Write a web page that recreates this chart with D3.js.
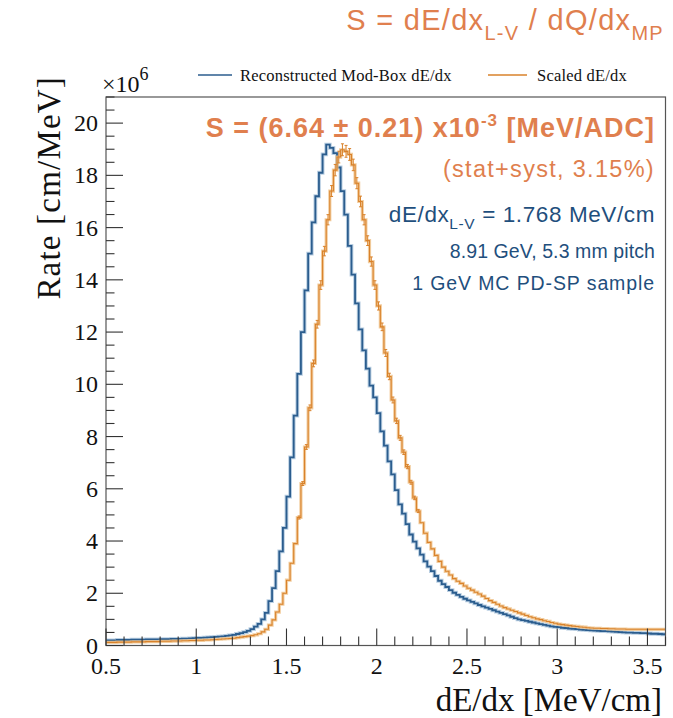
<!DOCTYPE html>
<html><head><meta charset="utf-8">
<script src="https://cdn.jsdelivr.net/npm/d3@7"></script>
<style>body{margin:0;background:#fff}svg{display:block}</style>
</head><body>
<svg id="c" width="673" height="718"></svg>
<script>
// ---- data ----
const binStart = 0.5, binWidth = 0.02, xMin = 0.5, xMax = 3.6, yMax = 21;
const xTicks = [0.5, 1, 1.5, 2, 2.5, 3, 3.5];
const yTicks = [0, 2, 4, 6, 8, 10, 12, 14, 16, 18, 20];
const recoValues = [
0.20,0.20,0.20,0.21,0.21,0.21,0.21,0.22,0.22,0.22,
0.22,0.23,0.23,0.23,0.23,0.24,0.24,0.24,0.25,0.25,
0.25,0.26,0.26,0.27,0.28,0.29,0.29,0.30,0.31,0.32,
0.33,0.34,0.35,0.37,0.39,0.41,0.44,0.47,0.51,0.56,
0.63,0.72,0.83,1.00,1.25,1.70,2.20,2.85,3.60,4.50,
5.70,7.20,8.80,10.40,12.00,13.60,15.00,16.20,17.20,18.10,
18.80,19.18,19.05,18.85,18.30,17.40,16.50,15.30,14.20,13.10,
12.10,11.30,10.60,9.95,9.50,8.90,8.20,7.65,7.05,6.55,
5.95,5.40,5.05,4.65,4.25,3.98,3.72,3.48,3.22,3.02,
2.85,2.66,2.48,2.35,2.24,2.12,2.02,1.94,1.86,1.79,
1.73,1.67,1.61,1.55,1.50,1.45,1.40,1.35,1.30,1.25,
1.20,1.15,1.10,1.05,1.00,0.97,0.94,0.91,0.88,0.85,
0.82,0.79,0.76,0.73,0.71,0.70,0.68,0.67,0.65,0.64,
0.63,0.61,0.60,0.59,0.58,0.57,0.56,0.55,0.55,0.54,
0.53,0.52,0.51,0.50,0.49,0.49,0.48,0.48,0.47,0.47,
0.46,0.45,0.45,0.44,0.43];
const scaledValues = [
0.12,0.12,0.12,0.13,0.13,0.13,0.13,0.14,0.14,0.14,
0.14,0.15,0.15,0.15,0.15,0.16,0.16,0.16,0.17,0.17,
0.17,0.18,0.18,0.19,0.19,0.20,0.20,0.21,0.21,0.22,
0.23,0.24,0.25,0.26,0.27,0.28,0.30,0.32,0.34,0.36,
0.38,0.41,0.45,0.52,0.62,0.78,0.98,1.28,1.58,2.00,
2.50,3.15,3.90,4.90,6.20,7.60,9.10,10.80,12.30,13.80,
15.10,16.30,17.40,18.20,18.70,18.98,18.92,18.80,18.40,17.70,
17.00,16.30,15.50,14.70,13.80,13.00,12.20,11.20,10.30,9.40,
8.60,7.95,7.40,6.85,6.25,5.65,5.15,4.70,4.30,3.95,
3.70,3.45,3.22,3.00,2.84,2.70,2.56,2.46,2.38,2.28,
2.19,2.12,2.04,1.97,1.89,1.80,1.72,1.65,1.58,1.51,
1.45,1.40,1.35,1.30,1.25,1.20,1.15,1.10,1.06,1.02,
0.99,0.95,0.92,0.88,0.85,0.82,0.80,0.78,0.76,0.74,
0.73,0.71,0.70,0.68,0.67,0.66,0.66,0.65,0.65,0.64,
0.64,0.63,0.63,0.63,0.62,0.62,0.62,0.62,0.62,0.62,
0.62,0.62,0.62,0.62,0.62];
const scaledRelErr = 0.012;
const legendLabels = ["Reconstructed Mod-Box dE/dx", "Scaled dE/dx"];

// ---- layout ----
const svg = d3.select("#c");
const L = 106, R = 665.5, T = 97, B = 645.5;
const x = d3.scaleLinear().domain([xMin, xMax]).range([L, R]);
const y = d3.scaleLinear().domain([0, yMax]).range([B, T]);
const blue = "#2b5d8e", blueLight = "#9dbad6", orange = "#d9822b", orangeLight = "#f0c48e";
const txtOrange = "#e07f4e", txtBlue = "#1f4f7d";
const serif = "'Liberation Serif','Times New Roman',serif";
const sans = "'Liberation Sans',Arial,Helvetica,sans-serif";

function stepPts(vals){
  const pts = vals.map((v,i)=>[binStart + i*binWidth, v]);
  pts.push([binStart + vals.length*binWidth, vals[vals.length-1]]);
  return pts;
}
const line = d3.line().x(d=>x(Math.min(d[0],xMax))).y(d=>y(d[1])).curve(d3.curveStepAfter);

svg.append("defs").append("clipPath").attr("id","clip")
  .append("rect").attr("x",L).attr("y",T).attr("width",R-L).attr("height",B-T);
const g = svg.append("g").attr("clip-path","url(#clip)");

// reco (blue)
g.append("path").attr("d", line(stepPts(recoValues))).attr("fill","none")
  .attr("stroke", blueLight).attr("stroke-width",3.8).attr("opacity",0.7);
g.append("path").attr("d", line(stepPts(recoValues))).attr("fill","none")
  .attr("stroke", blue).attr("stroke-width",1.8);

// scaled (orange)
g.append("path").attr("d", line(stepPts(scaledValues))).attr("fill","none")
  .attr("stroke", orangeLight).attr("stroke-width",3.2).attr("opacity",0.85);
g.append("path").attr("d", line(stepPts(scaledValues))).attr("fill","none")
  .attr("stroke", orange).attr("stroke-width",1.1);
const eb = g.append("g").attr("stroke", orange).attr("stroke-width",1);
scaledValues.forEach((v,i)=>{
  const cx = x(binStart + (i+0.5)*binWidth), e = v*scaledRelErr;
  if (e*26 < 1.5) return;
  eb.append("line").attr("x1",cx).attr("x2",cx).attr("y1",y(v-e)).attr("y2",y(v+e));
  eb.append("line").attr("x1",cx-1.5).attr("x2",cx+1.5).attr("y1",y(v-e)).attr("y2",y(v-e));
  eb.append("line").attr("x1",cx-1.5).attr("x2",cx+1.5).attr("y1",y(v+e)).attr("y2",y(v+e));
});

// frame
svg.append("rect").attr("x",L).attr("y",T).attr("width",R-L).attr("height",B-T)
  .attr("fill","none").attr("stroke","#555").attr("stroke-width",1.2);

// ticks (inside)
const xMinor = d3.range(5, 37).map(k=>k/10);
const ax = svg.append("g").attr("stroke","#333").attr("stroke-width",1.1);
xMinor.forEach(v=>{
  const major = xTicks.some(t=>Math.abs(t-v)<1e-6);
  ax.append("line").attr("x1",x(v)).attr("x2",x(v)).attr("y1",B).attr("y2",B-(major?17:9));
});
const yMinor = d3.range(0, 43).map(k=>k/2);
yMinor.forEach(v=>{
  const major = yTicks.some(t=>Math.abs(t-v)<1e-6);
  ax.append("line").attr("x1",L).attr("x2",L+(major?17:8.5)).attr("y1",y(v)).attr("y2",y(v));
});
svg.append("g").selectAll("text").data(xTicks).join("text")
  .attr("x",d=>x(d)).attr("y",B+28).attr("text-anchor","middle")
  .attr("font-family",serif).attr("font-size",24).attr("fill","#111").text(d=>d);
svg.append("g").selectAll("text").data(yTicks).join("text")
  .attr("x",L-8).attr("y",d=>y(d)+8).attr("text-anchor","end")
  .attr("font-family",serif).attr("font-size",24).attr("fill","#111").text(d=>d);

// exponent
const ex = svg.append("text").attr("x",L-4).attr("y",92).attr("font-family",serif).attr("font-size",24).attr("fill","#111");
ex.append("tspan").text("×10");
ex.append("tspan").attr("dy",-12).attr("font-size",18).text("6");

// axis titles
svg.append("text").attr("transform",`translate(60,76) rotate(-90)`).attr("text-anchor","end")
  .attr("font-family",serif).attr("font-size",33).attr("letter-spacing",1.2).attr("fill","#111").text("Rate [cm/MeV]");
svg.append("text").attr("x",662).attr("y",711).attr("text-anchor","end")
  .attr("font-family",serif).attr("font-size",33).attr("fill","#111").text("dE/dx [MeV/cm]");

// legend
const leg = [{c:blue, x1:198, x2:232, tx:240}, {c:orange, x1:488, x2:527, tx:537}];
leg.forEach((l,i)=>{
  svg.append("line").attr("x1",l.x1).attr("x2",l.x2).attr("y1",75).attr("y2",75).attr("stroke",l.c).attr("stroke-width",1.5);
  svg.append("text").attr("x",l.tx).attr("y",81).attr("font-family",serif).attr("font-size",16.5).attr("letter-spacing",0.2).attr("fill","#111").text(legendLabels[i]);
});

// title
const tt = svg.append("text").attr("x",664).attr("y",30).attr("text-anchor","end")
  .attr("font-family",sans).attr("font-size",29).attr("letter-spacing",1.3).attr("fill",txtOrange);
tt.append("tspan").text("S = dE/dx");
tt.append("tspan").attr("dy",10).attr("font-size",20).text("L-V");
tt.append("tspan").attr("dy",-10).text(" / dQ/dx");
tt.append("tspan").attr("dy",10).attr("font-size",20).text("MP");

// annotations
const a1 = svg.append("text").attr("x",655).attr("y",137).attr("text-anchor","end")
  .attr("font-family",sans).attr("font-weight","bold").attr("font-size",27).attr("letter-spacing",1.0).attr("fill",txtOrange);
a1.append("tspan").text("S = (6.64 ± 0.21) x10");
a1.append("tspan").attr("dy",-11).attr("font-size",17).text("-3");
a1.append("tspan").attr("dy",11).text(" [MeV/ADC]");
svg.append("text").attr("x",655).attr("y",177).attr("text-anchor","end")
  .attr("font-family",sans).attr("font-size",23.5).attr("letter-spacing",1.3).attr("fill",txtOrange).text("(stat+syst, 3.15%)");
const a3 = svg.append("text").attr("x",655).attr("y",222).attr("text-anchor","end")
  .attr("font-family",sans).attr("font-size",22.5).attr("letter-spacing",0.6).attr("fill",txtBlue);
a3.append("tspan").text("dE/dx");
a3.append("tspan").attr("dy",7).attr("font-size",15.5).text("L-V");
a3.append("tspan").attr("dy",-7).text(" = 1.768 MeV/cm");
svg.append("text").attr("x",655).attr("y",258).attr("text-anchor","end")
  .attr("font-family",sans).attr("font-size",19.5).attr("letter-spacing",0.1).attr("fill",txtBlue).text("8.91 GeV, 5.3 mm pitch");
svg.append("text").attr("x",655).attr("y",290).attr("text-anchor","end")
  .attr("font-family",sans).attr("font-size",19.5).attr("letter-spacing",0.9).attr("fill",txtBlue).text("1 GeV MC PD-SP sample");
</script>
</body></html>
